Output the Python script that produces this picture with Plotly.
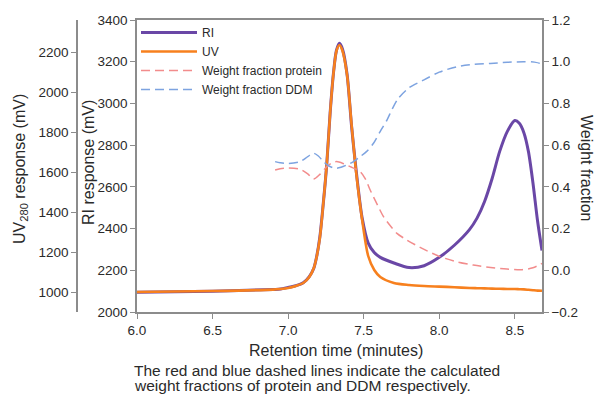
import plotly.graph_objects as go

# Retention time (minutes) for RI / UV traces
time_min = [6.00, 6.50, 6.90, 6.95, 7.00, 7.05, 7.10, 7.14, 7.17, 7.19, 7.21, 7.23, 7.256, 7.278,
            7.30, 7.32, 7.34, 7.36, 7.39, 7.42, 7.45, 7.49, 7.53, 7.57, 7.61, 7.70, 7.80, 7.90,
            8.00, 8.10, 8.20, 8.25, 8.30, 8.35, 8.40, 8.45, 8.50, 8.53, 8.56, 8.59, 8.62, 8.65, 8.68]

ri_mv = [2095, 2100, 2108, 2110, 2118, 2126, 2140, 2170, 2210, 2270, 2360, 2500, 2713, 2954,
         3145, 3255, 3288, 3260, 3140, 2890, 2680, 2450, 2330, 2285, 2262, 2235, 2213, 2222,
         2262, 2320, 2395, 2450, 2530, 2640, 2770, 2865, 2918, 2905, 2860, 2770, 2620, 2440, 2295]

uv_mv = [1000, 1005, 1012, 1015, 1020, 1030, 1045, 1075, 1120, 1180, 1270, 1420, 1643, 1895,
         2093, 2205, 2235, 2205, 2085, 1835, 1600, 1360, 1180, 1110, 1075, 1045, 1035, 1030,
         1027, 1024, 1020, 1019, 1018, 1017, 1016, 1015, 1015, 1014, 1013, 1011, 1009, 1007, 1006]

# Weight fraction protein
time_wp = [6.914, 6.947, 7.00, 7.079, 7.13, 7.168, 7.21, 7.256, 7.29, 7.322, 7.37, 7.411, 7.477,
           7.51, 7.543, 7.59, 7.631, 7.68, 7.720, 7.786, 7.90, 8.007, 8.12, 8.225, 8.34, 8.448,
           8.55, 8.62, 8.68]
wf_protein = [0.481, 0.487, 0.490, 0.484, 0.462, 0.438, 0.460, 0.497, 0.515, 0.521, 0.510, 0.497,
              0.473, 0.44, 0.385, 0.315, 0.257, 0.21, 0.177, 0.145, 0.10, 0.065, 0.04, 0.025,
              0.013, 0.006, 0.003, 0.012, 0.033]

# Weight fraction DDM
time_wd = [6.914, 6.947, 7.00, 7.079, 7.13, 7.168, 7.20, 7.234, 7.27, 7.311, 7.35, 7.389, 7.43,
           7.477, 7.52, 7.565, 7.609, 7.654, 7.69, 7.730, 7.80, 7.896, 8.00, 8.117, 8.23, 8.338,
           8.45, 8.558, 8.63, 8.67, 8.68]
wf_ddm = [0.521, 0.516, 0.512, 0.521, 0.545, 0.561, 0.548, 0.521, 0.500, 0.489, 0.494, 0.505,
          0.520, 0.545, 0.570, 0.609, 0.665, 0.720, 0.775, 0.825, 0.875, 0.912, 0.950, 0.976,
          0.987, 0.992, 0.997, 1.000, 0.998, 0.99, 0.975]

x_ticks = [6.0, 6.5, 7.0, 7.5, 8.0, 8.5]
ri_ticks = [2000, 2200, 2400, 2600, 2800, 3000, 3200, 3400]
uv_ticks = [1000, 1200, 1400, 1600, 1800, 2000, 2200]
wf_ticks = [-0.2, 0.0, 0.2, 0.4, 0.6, 0.8, 1.0, 1.2]

PURPLE = "#6A47A6"
ORANGE = "#F7801E"
RED = "#F28C8C"
BLUE = "#7DA3E0"
AXIS = "#8C8C8C"
TXT = "#2A2A2A"
FONT = "Liberation Sans, Arial, sans-serif"

W, H = 594, 394
L_PX, R_PX, T_PX, B_PX = 137, 542, 20, 312

fig = go.Figure()
fig.add_trace(go.Scatter(x=time_min, y=ri_mv, name="RI", mode="lines",
                         line=dict(color=PURPLE, width=3, shape="spline", smoothing=0.8),
                         yaxis="y"))
fig.add_trace(go.Scatter(x=time_min, y=uv_mv, name="UV", mode="lines",
                         line=dict(color=ORANGE, width=2.6, shape="spline", smoothing=0.8),
                         yaxis="y2"))
fig.add_trace(go.Scatter(x=time_wp, y=wf_protein, name="Weight fraction protein", mode="lines",
                         line=dict(color=RED, width=1.5, dash="9px,5px", shape="spline", smoothing=0.8),
                         yaxis="y3"))
fig.add_trace(go.Scatter(x=time_wd, y=wf_ddm, name="Weight fraction DDM", mode="lines",
                         line=dict(color=BLUE, width=1.5, dash="9px,5px", shape="spline", smoothing=0.8),
                         yaxis="y3"))

axis_common = dict(showgrid=False, zeroline=False, showline=True, linecolor=AXIS, linewidth=1.5,
                   ticks="outside", tickcolor=AXIS, ticklen=5, tickwidth=1.2,
                   tickfont=dict(size=13.5, color=TXT, family=FONT))

fig.update_layout(
    width=W, height=H,
    margin=dict(l=0, r=0, t=T_PX, b=H - B_PX, autoexpand=False),
    paper_bgcolor="white", plot_bgcolor="white",
    font=dict(family=FONT, color=TXT),
    xaxis=dict(domain=[L_PX / W, R_PX / W], range=[6.0, 8.68], tickvals=x_ticks,
               tickformat=".1f", mirror=True, **axis_common),
    yaxis=dict(range=[2000, 3400], tickvals=ri_ticks, anchor="x", side="left", **axis_common),
    yaxis2=dict(range=[900, 2360], tickvals=uv_ticks, overlaying="y", anchor="free",
                position=77 / W, side="left", **axis_common),
    yaxis3=dict(range=[-0.2, 1.2], tickvals=wf_ticks, tickformat=".1f", overlaying="y",
                anchor="x", side="right", **axis_common),
    showlegend=True,
    legend=dict(x=136 / W, y=(B_PX - 18) / (B_PX - T_PX), xanchor="left", yanchor="top",
                bgcolor="rgba(0,0,0,0)",
                font=dict(size=12, color=TXT, family=FONT), tracegroupgap=0, itemwidth=56),
)

def py(px):
    return (B_PX - px) / (B_PX - T_PX)

def ann(text, xpx, ypx, size, angle=0, xanchor="center"):
    fig.add_annotation(text=text, x=xpx / W, y=py(ypx), xref="paper", yref="paper",
                       xanchor=xanchor, yanchor="middle", textangle=angle, showarrow=False,
                       font=dict(size=size, color=TXT, family=FONT))

ann("UV<sub>280</sub> response (mV)", 21, 169, 16, -90)
ann("RI response (mV)", 88, 163, 16, -90)
ann("Weight fraction", 587, 168, 16, 90)
ann("Retention time (minutes)", 336, 350, 16)
ann("The red and blue dashed lines indicate the calculated", 132, 370, 15.5, 0, "left")
ann("weight fractions of protein and DDM respectively.", 132, 385, 15.5, 0, "left")

fig.write_html("out.html", config={"displayModeBar": False},
               post_script="document.body.style.margin='0';document.body.style.overflow='hidden';")
